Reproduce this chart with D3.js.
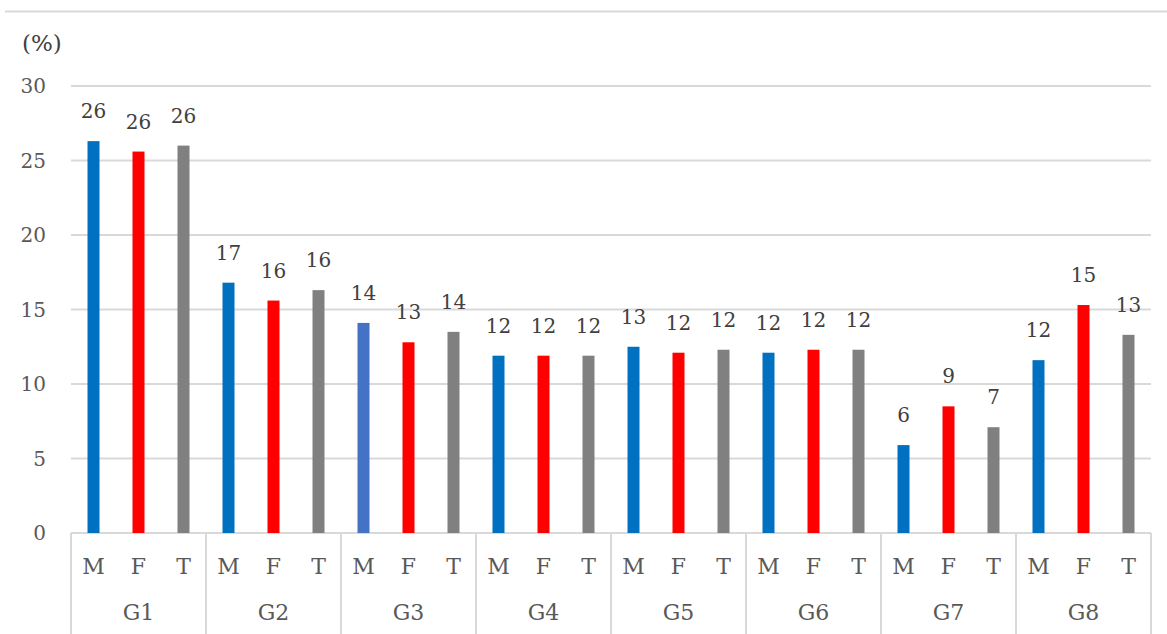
<!DOCTYPE html>
<html><head><meta charset="utf-8">
<script src="https://cdn.jsdelivr.net/npm/d3@7"></script>
<style>body{margin:0;background:#fff}svg{display:block}</style>
</head><body>
<script>
const groups = ["G1","G2","G3","G4","G5","G6","G7","G8"];
const series = ["M","F","T"];
const valuesM = [26.3, 16.8, 14.1, 11.9, 12.5, 12.1, 5.9, 11.6];
const valuesF = [25.6, 15.6, 12.8, 11.9, 12.1, 12.3, 8.5, 15.3];
const valuesT = [26.0, 16.3, 13.5, 11.9, 12.3, 12.3, 7.1, 13.3];
const yTicks = [0, 5, 10, 15, 20, 25, 30];

(function () {
const W = 1167, H = 634;
const mLeft = 71, mRight = 1151, mTop = 86, mBottom = 533;
const svg = d3.select("body").append("svg").attr("width", W).attr("height", H);
const serif = "'DejaVu Serif', 'Liberation Serif', serif";

const x0 = d3.scaleBand().domain(groups).range([mLeft, mRight]);
const x1 = d3.scaleBand().domain(series).range([0, x0.bandwidth()]);
const y = d3.scaleLinear().domain([0, 30]).range([mBottom, mTop]);

// top border
svg.append("line").attr("x1", 5).attr("x2", W).attr("y1", 11.5).attr("y2", 11.5)
  .attr("stroke", "#d9d9d9").attr("stroke-width", 2);

// gridlines
svg.append("g").selectAll("line").data(yTicks).join("line")
  .attr("x1", mLeft).attr("x2", mRight)
  .attr("y1", d => y(d)).attr("y2", d => y(d))
  .attr("stroke", "#d9d9d9").attr("stroke-width", 2);

// y labels
svg.append("g").selectAll("text").data(yTicks).join("text")
  .attr("x", 46).attr("y", d => y(d) + 7)
  .attr("text-anchor", "end").attr("font-family", serif).attr("font-size", 20)
  .attr("fill", "#595959").text(d => d);

svg.append("text").attr("x", 22).attr("y", 51).attr("font-family", serif)
  .attr("font-size", 23).attr("fill", "#404040").text("(%)");

// group separators
const seps = groups.map(g => x0(g)).concat([mRight]);
svg.append("g").selectAll("line").data(seps).join("line")
  .attr("x1", d => d).attr("x2", d => d).attr("y1", mBottom).attr("y2", H)
  .attr("stroke", "#d9d9d9").attr("stroke-width", 2);

const data = [];
groups.forEach((g, i) => {
  data.push({g, s: "M", v: valuesM[i], c: i === 2 ? "#4472C4" : "#0070C0"});
  data.push({g, s: "F", v: valuesF[i], c: "#FF0000"});
  data.push({g, s: "T", v: valuesT[i], c: "#808080"});
});

const bw = 12;
svg.append("g").selectAll("rect").data(data).join("rect")
  .attr("x", d => x0(d.g) + x1(d.s) + x1.bandwidth() / 2 - bw / 2)
  .attr("width", bw)
  .attr("y", d => y(d.v)).attr("height", d => y(0) - y(d.v))
  .attr("fill", d => d.c);

svg.append("g").selectAll("text").data(data).join("text")
  .attr("x", d => x0(d.g) + x1(d.s) + x1.bandwidth() / 2)
  .attr("y", d => y(d.v) - 23)
  .attr("text-anchor", "middle").attr("font-family", serif).attr("font-size", 20)
  .attr("fill", "#404040").text(d => Math.round(d.v));

// series labels
svg.append("g").selectAll("text").data(data).join("text")
  .attr("x", d => x0(d.g) + x1(d.s) + x1.bandwidth() / 2)
  .attr("y", 574)
  .attr("text-anchor", "middle").attr("font-family", serif).attr("font-size", 22)
  .attr("fill", "#595959").text(d => d.s);

// group labels
svg.append("g").selectAll("text").data(groups).join("text")
  .attr("x", d => x0(d) + x0.bandwidth() / 2)
  .attr("y", 620)
  .attr("text-anchor", "middle").attr("font-family", serif).attr("font-size", 22)
  .attr("fill", "#595959").text(d => d);
})();
</script>
</body></html>
